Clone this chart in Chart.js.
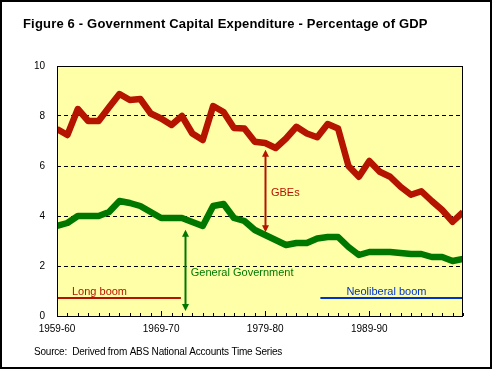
<!DOCTYPE html>
<html>
<head>
<meta charset="utf-8">
<title>Figure 6 - Government Capital Expenditure</title>
<script src="https://cdn.jsdelivr.net/npm/chart.js@4.4.1/dist/chart.umd.min.js"></script>
<style>
    body { margin: 0; background: #fff; }
    canvas { display: block; }
</style>
</head>
<body>
<canvas id="chart" width="494" height="371"></canvas>
<script>
// Данные: доля капитальных расходов в ВВП, 1959-60 ... 1998-99 (индекс года 0..39)
const tickLabels = ['1959-60', '1969-70', '1979-80', '1989-90'];

const gbe = [7.48, 7.24, 8.28, 7.8, 7.8, 8.35, 8.88, 8.64, 8.68, 8.1,
             7.9, 7.64, 8.0, 7.3, 7.04, 8.4, 8.16, 7.52, 7.5, 6.97,
             6.92, 6.72, 7.1, 7.57, 7.3, 7.15, 7.68, 7.5, 6.0, 5.57,
             6.2, 5.77, 5.57, 5.17, 4.85, 4.99, 4.6, 4.24, 3.77, 4.16];

const generalGov = [3.6, 3.72, 4.0, 4.0, 4.0, 4.16, 4.6, 4.52, 4.4, 4.16,
                    3.92, 3.92, 3.92, 3.76, 3.6, 4.4, 4.48, 3.92, 3.8, 3.44,
                    3.24, 3.04, 2.84, 2.92, 2.92, 3.1, 3.16, 3.16, 2.76, 2.44,
                    2.56, 2.56, 2.56, 2.52, 2.48, 2.48, 2.36, 2.36, 2.2, 2.28];

// Аннотации (в координатах данных: индекс года, % ВВП)
const longBoom = [[0, 0.72], [11.9, 0.72]];
const neoBoom = [[25.3, 0.72], [39, 0.72]];
const gbeArrow = [[20, 6.65], [20, 3.35]];
const govArrow = [[12.27, 3.45], [12.27, 0.2]];

const RED = '#b41400';
const GREEN = '#007800';
const BLUE = '#0033cc';
const FONT = 'Arial, "Liberation Sans", sans-serif';

const toXY = arr => arr.map((v, i) => ({ x: i, y: v }));
const toPts = arr => arr.map(p => ({ x: p[0], y: p[1] }));

const decor = {
    id: 'decor',
    beforeDraw(chart) {
        const { ctx, chartArea: a } = chart;
        ctx.save();
        ctx.fillStyle = '#fff';
        ctx.fillRect(0, 0, chart.width, chart.height);
        ctx.fillStyle = '#ffffa8';
        ctx.fillRect(a.left, a.top, a.right - a.left, a.bottom - a.top);
        ctx.restore();
    },
    afterDatasetsDraw(chart) {
        const { ctx, chartArea: a, scales: { x, y } } = chart;
        ctx.save();

        // рамка области графика
        ctx.strokeStyle = '#000';
        ctx.lineWidth = 1;
        ctx.strokeRect(a.left + 0.5, a.top + 0.5, a.right - a.left - 1, a.bottom - a.top);

        // засечки на оси X: каждый год, длиннее на десятилетиях
        ctx.beginPath();
        for (let i = 0; i <= 39; i++) {
            const px = Math.round(x.getPixelForValue(i)) + 0.5;
            const len = i % 10 === 0 ? 5 : 3;
            ctx.moveTo(px, a.bottom);
            ctx.lineTo(px, a.bottom - len);
        }
        ctx.stroke();

        // стрелки
        const arrow = (pts, color) => {
            const px = Math.round(x.getPixelForValue(pts[0][0])) + 0.5;
            const y1 = y.getPixelForValue(pts[0][1]);
            const y2 = y.getPixelForValue(pts[1][1]);
            ctx.strokeStyle = color;
            ctx.fillStyle = color;
            ctx.lineWidth = 2;
            ctx.beginPath();
            ctx.moveTo(px, y1 + 3);
            ctx.lineTo(px, y2 - 3);
            ctx.stroke();
            ctx.beginPath();
            ctx.moveTo(px, y1);
            ctx.lineTo(px - 3.5, y1 + 7);
            ctx.lineTo(px + 3.5, y1 + 7);
            ctx.closePath();
            ctx.fill();
            ctx.beginPath();
            ctx.moveTo(px, y2);
            ctx.lineTo(px - 3.5, y2 - 7);
            ctx.lineTo(px + 3.5, y2 - 7);
            ctx.closePath();
            ctx.fill();
        };
        arrow(gbeArrow, RED);
        arrow(govArrow, GREEN);

        // подписи
        ctx.font = '11px ' + FONT;
        ctx.textBaseline = 'middle';
        ctx.textAlign = 'left';
        ctx.fillStyle = RED;
        ctx.fillText('GBEs', x.getPixelForValue(20.55), y.getPixelForValue(4.92));
        ctx.fillText('Long boom', x.getPixelForValue(1.44), y.getPixelForValue(0.96));
        ctx.fillStyle = GREEN;
        ctx.fillText('General Government', x.getPixelForValue(12.85), y.getPixelForValue(1.72));
        ctx.fillStyle = BLUE;
        ctx.fillText('Neoliberal boom', x.getPixelForValue(27.8), y.getPixelForValue(0.96));

        ctx.restore();
    },
    afterDraw(chart) {
        const { ctx } = chart;
        ctx.save();
        ctx.fillStyle = '#000';
        ctx.textBaseline = 'middle';
        ctx.textAlign = 'left';
        ctx.font = 'bold 13px ' + FONT;
        ctx.letterSpacing = '0.18px';
        ctx.fillText('Figure 6 - Government Capital Expenditure - Percentage of GDP', 23, 24);
        ctx.letterSpacing = '-0.2px';
        ctx.font = '10px ' + FONT;
        ctx.fillText('Source:  Derived from ABS National Accounts Time Series', 34, 352);
        ctx.letterSpacing = '0px';
        // внешняя рамка
        ctx.strokeStyle = '#000';
        ctx.lineWidth = 2;
        ctx.strokeRect(1, 1, 490, 367);
        ctx.restore();
    }
};

new Chart(document.getElementById('chart'), {
    type: 'line',
    data: {
        datasets: [
            { data: toXY(gbe), borderColor: RED, borderWidth: 6.5 },
            { data: toXY(generalGov), borderColor: GREEN, borderWidth: 6.5 },
            { data: toPts(longBoom), borderColor: RED, borderWidth: 2 },
            { data: toPts(neoBoom), borderColor: BLUE, borderWidth: 2 }
        ]
    },
    options: {
        responsive: false,
        animation: false,
        elements: {
            point: { radius: 0 },
            line: { tension: 0, fill: false, borderJoinStyle: 'round', borderCapStyle: 'butt' }
        },
        layout: { padding: { left: 0, top: 66, right: 31, bottom: 0 } },
        plugins: {
            legend: { display: false },
            tooltip: { enabled: false },
            title: { display: false }
        },
        scales: {
            x: {
                type: 'linear',
                min: 0,
                max: 39,
                grid: { display: false, drawTicks: false },
                border: { display: false },
                ticks: {
                    stepSize: 10,
                    includeBounds: false,
                    autoSkip: false,
                    maxRotation: 0,
                    padding: 7,
                    color: '#000',
                    font: { family: FONT, size: 10 },
                    callback: v => tickLabels[v / 10] ?? ''
                },
                afterFit: s => { s.height = 55; }
            },
            y: {
                min: 0,
                max: 10,
                grid: {
                    drawTicks: false,
                    color: c => (c.tick.value > 0 && c.tick.value < 10) ? '#000' : 'transparent',
                    lineWidth: 1
                },
                border: { display: false, dash: [4, 3] },
                ticks: {
                    stepSize: 2,
                    padding: 12,
                    color: '#000',
                    font: { family: FONT, size: 10 }
                },
                afterFit: s => { s.width = 57; }
            }
        }
    },
    plugins: [decor]
});
</script>
</body>
</html>
